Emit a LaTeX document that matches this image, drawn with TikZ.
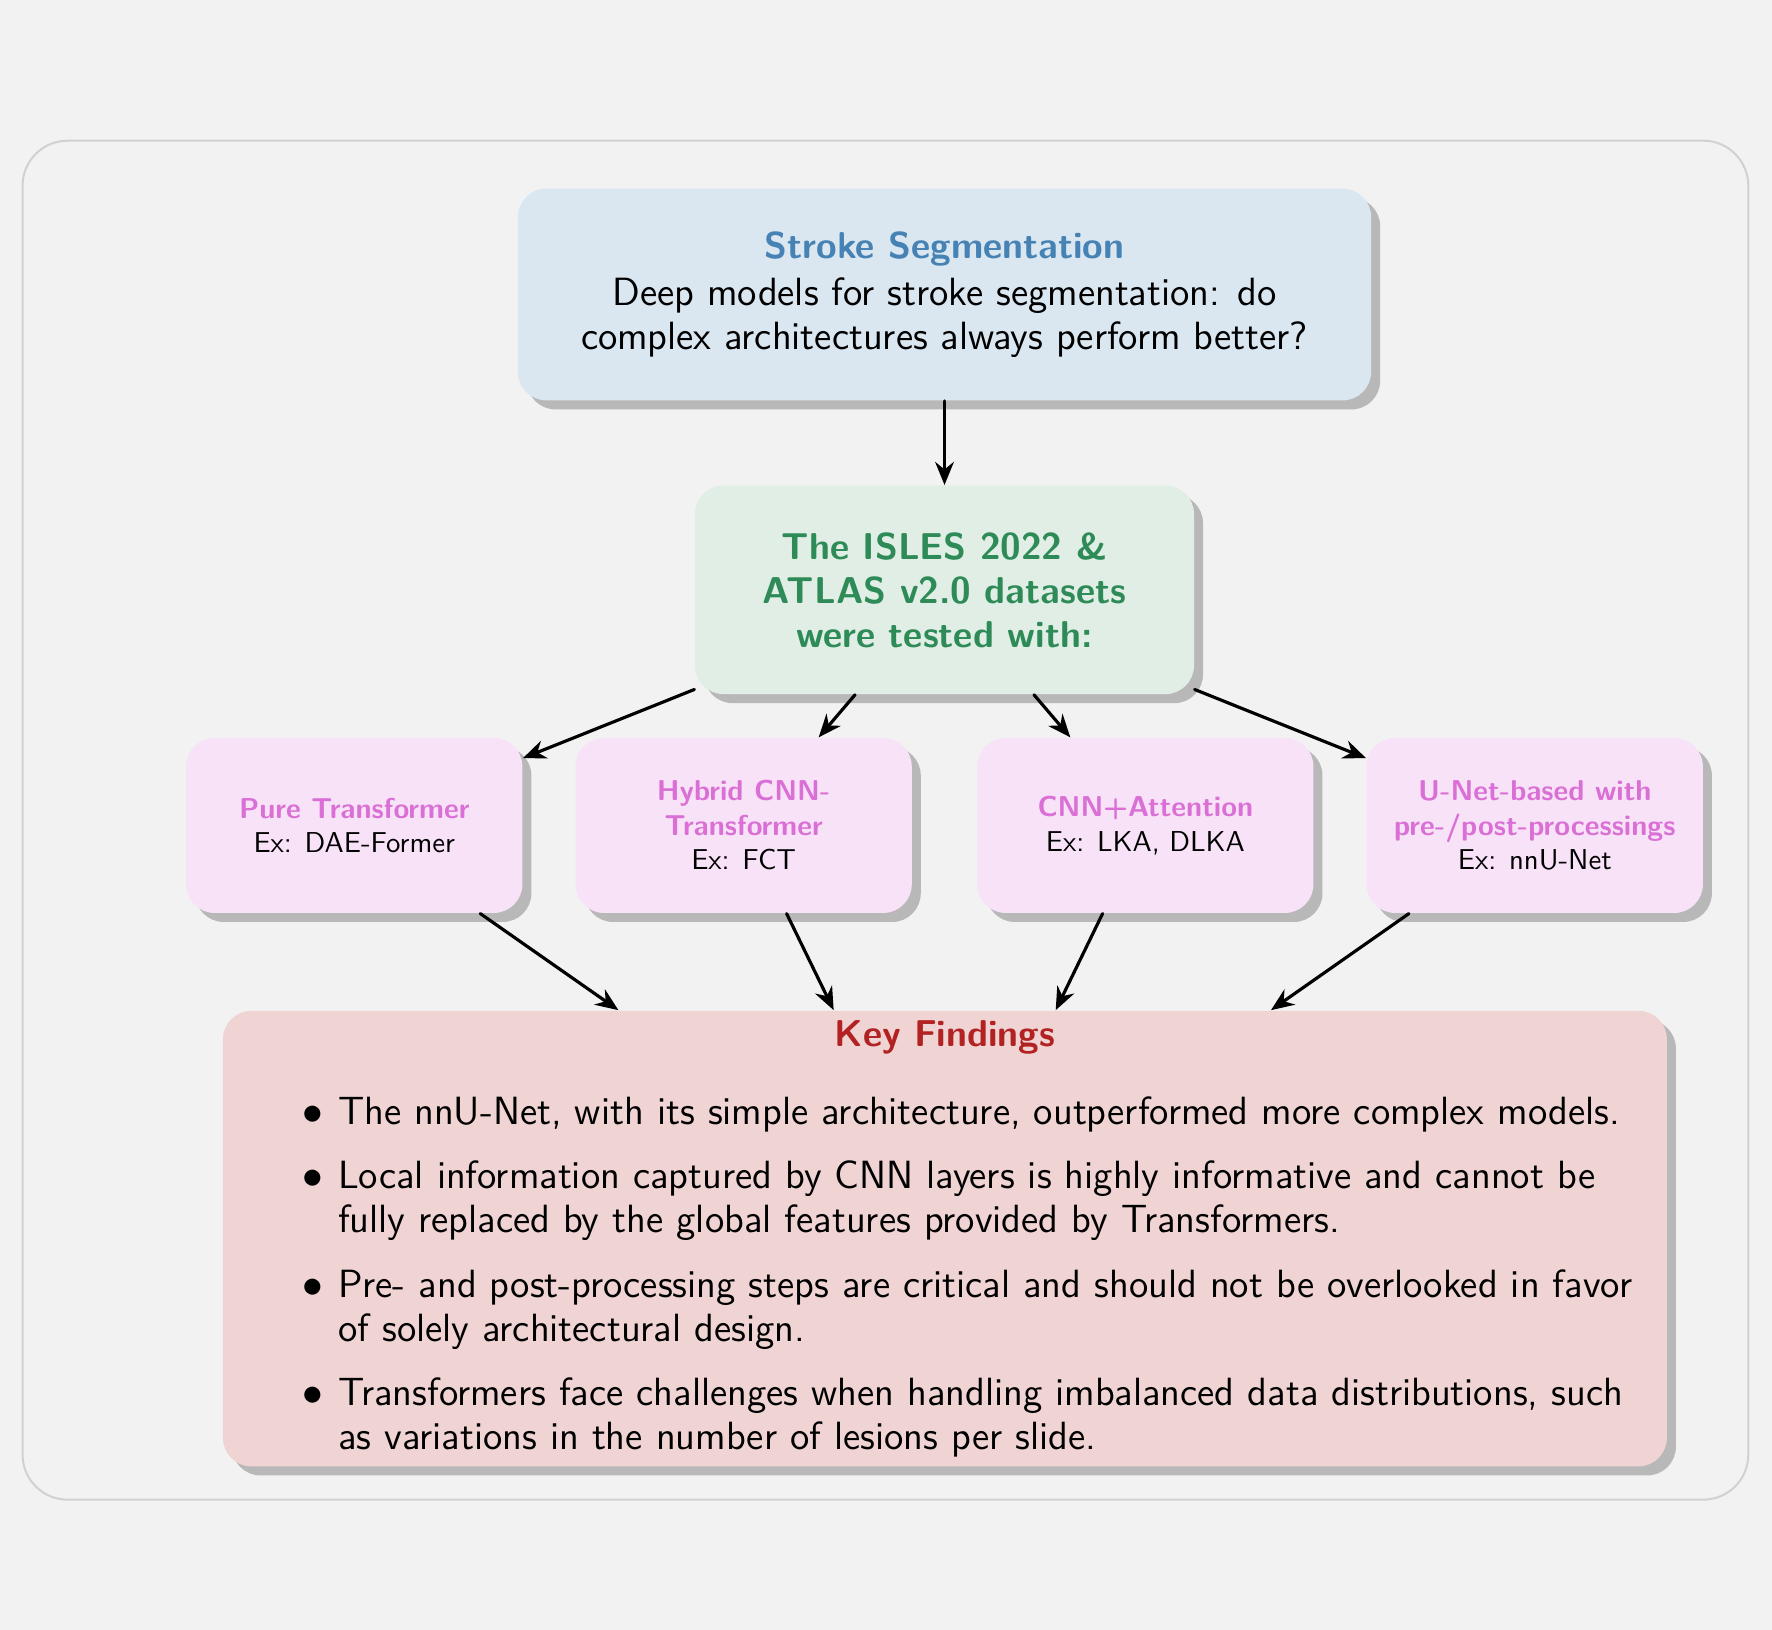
\documentclass[tikz,border=0pt]{standalone}
\usetikzlibrary{shadows,arrows.meta}
\renewcommand{\familydefault}{\sfdefault}
\renewcommand{\labelitemi}{$\bullet$}
\definecolor{strokeblue}{RGB}{70,130,180}
\definecolor{datagreen}{RGB}{46,139,87}
\definecolor{archpink}{RGB}{218,112,214}
\definecolor{findred}{RGB}{178,34,34}
\newcommand{\bodyfont}{\fontsize{13.7}{15.3}\selectfont}
\newcommand{\headfont}{\fontsize{13}{15.3}\selectfont\bfseries}
\begin{document}
\begin{tikzpicture}[line join=round, line cap=round,>={Stealth[length=8pt,width=6.5pt]},
	box/.style={rounded corners=0.35cm, inner sep=0pt, align=center,
		drop shadow={shadow xshift=0.11cm, shadow yshift=-0.11cm}},
	archbox/.style={box, fill=archpink!20, minimum width=4.11cm, minimum height=2.14cm},
	link/.style={->, line width=1.1pt}]
	\fill[gray!10] (0,0) rectangle (21.66,19.92);
	\draw[black!18, line width=0.7pt, rounded corners=0.55cm] (0.276,1.589) rectangle (21.37,18.2);

	\node[box, fill=strokeblue!20, minimum width=10.43cm, minimum height=2.59cm, font=\bodyfont] (stroke) at (11.545,16.32)
		{{\headfont\color{strokeblue}Stroke Segmentation}\\[1pt]
		Deep models for stroke segmentation: do\\complex architectures always perform better?};
	\node[box, fill=datagreen!15, minimum width=6.1cm, minimum height=2.55cm, font=\headfont, text=datagreen] (data) at (11.545,12.71)
		{The ISLES 2022 \&\\ATLAS v2.0 datasets\\were tested with:};

	\node[archbox] (pure) at (4.33,9.83) {{\bfseries\color{archpink}Pure Transformer}\\Ex: DAE-Former};
	\node[archbox] (hybrid) at (9.09,9.83) {{\bfseries\color{archpink}Hybrid CNN-}\\{\bfseries\color{archpink}Transformer}\\Ex: FCT};
	\node[archbox] (attn) at (14.0,9.83) {{\bfseries\color{archpink}CNN+Attention}\\Ex: LKA, DLKA};
	\node[archbox] (unet) at (18.76,9.83) {{\bfseries\color{archpink}U-Net-based with}\\{\bfseries\color{archpink}pre-/post-processings}\\Ex: nnU-Net};

	\node[box, fill=findred!20, minimum width=17.65cm, minimum height=5.57cm, text width=17.5cm, align=left, font=\bodyfont] (find) at (11.55,4.78)
		{{\centering\headfont\color{findred}Key Findings\par}
		\vspace{2pt}
		\setlength{\leftmargini}{37.9pt}
		\begin{itemize}
			\setlength{\itemsep}{3pt}
			\item The nnU-Net, with its simple architecture, outperformed more complex models.
			\item Local information captured by CNN layers is highly informative and cannot be\\fully replaced by the global features provided by Transformers.
			\item Pre- and post-processing steps are critical and should not be overlooked in favor\\of solely architectural design.
			\item Transformers face challenges when handling imbalanced data distributions, such\\as variations in the number of lesions per slide.
		\end{itemize}};

	\draw[link] (stroke) -- (data);
	\foreach \a in {pure,hybrid,attn,unet}{
		\draw[link] (data) -- (\a);
		\draw[link] (\a) -- (find);
	}
\end{tikzpicture}
\end{document}
